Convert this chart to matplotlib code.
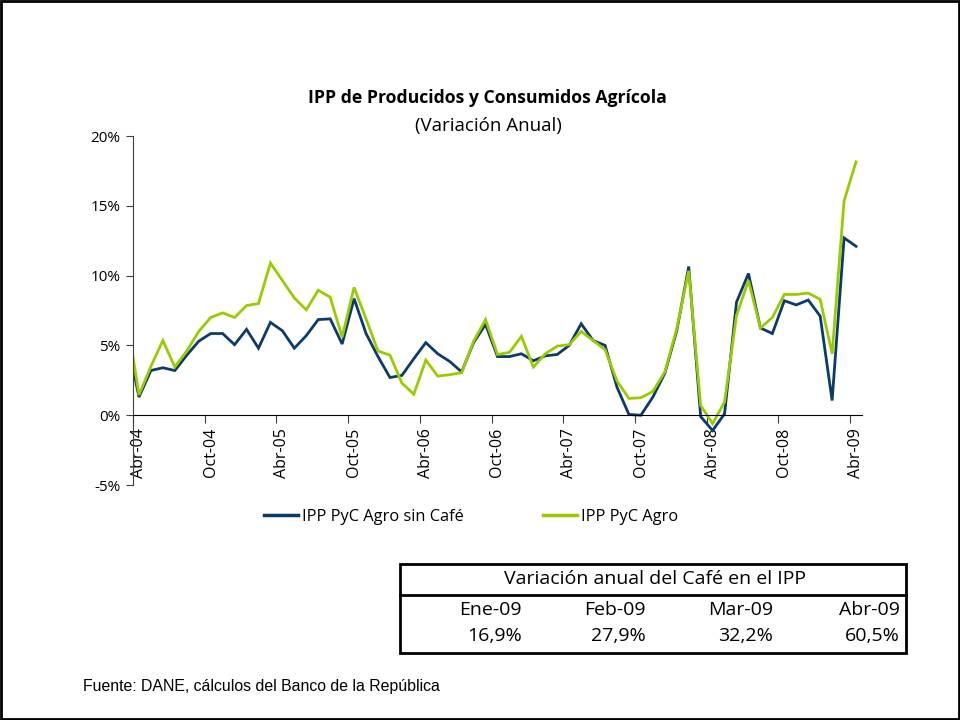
import numpy as np
import matplotlib
matplotlib.use('Agg')
import matplotlib.pyplot as plt
from matplotlib.patches import Rectangle
from matplotlib.lines import Line2D

plt.rcParams['font.family'] = ['Open Sans', 'DejaVu Sans']

# variacion anual (%), mensual de Mar-04 a Abr-09
agro_sin_cafe = [5.4, 1.3, 3.2, 3.4, 3.2, 4.3, 5.3, 5.85, 5.85, 5.05,
                 6.15, 4.8, 6.65, 6.05, 4.8, 5.7, 6.85, 6.9, 5.1, 8.35,
                 5.85, 4.2, 2.7, 2.85, 4.05, 5.2, 4.4, 3.85, 3.1, 5.2,
                 6.5, 4.2, 4.2, 4.4, 3.9, 4.25, 4.35, 5.0, 6.55, 5.35,
                 5.0, 2.0, 0.05, 0.0, 1.3, 3.0, 6.05, 10.65, -0.1, -1.1,
                 0.1, 8.1, 10.15, 6.25, 5.85, 8.2, 7.9, 8.25, 7.1, 1.05,
                 12.7, 12.1]
agro = [6.9, 1.45, 3.5, 5.35, 3.45, 4.6, 6.0, 7.0, 7.33, 7.0,
        7.85, 8.0, 10.9, 9.65, 8.4, 7.55, 8.95, 8.45, 5.6, 9.15,
        6.9, 4.6, 4.3, 2.3, 1.5, 3.95, 2.8, 2.9, 3.05, 5.3,
        6.85, 4.35, 4.5, 5.65, 3.45, 4.4, 4.95, 5.05, 6.0, 5.35,
        4.7, 2.45, 1.2, 1.25, 1.7, 3.1, 6.2, 10.35, 0.7, -0.6,
        0.95, 7.15, 9.65, 6.25, 7.0, 8.65, 8.65, 8.75, 8.3, 4.4,
        15.35, 18.15]
xlabels = ['Abr-04', 'Oct-04', 'Abr-05', 'Oct-05', 'Abr-06', 'Oct-06',
           'Abr-07', 'Oct-07', 'Abr-08', 'Oct-08', 'Abr-09']
yticks = [-5, 0, 5, 10, 15, 20]

cafe_meses = ['Ene-09', 'Feb-09', 'Mar-09', 'Abr-09']
cafe_var = ['16,9%', '27,9%', '32,2%', '60,5%']

azul = '#0B3B6B'
verde = '#99CC00'

W, H = 960, 720
def fx(x):
    return x / W
def fy(y):
    return 1 - y / H

fig = plt.figure(figsize=(9.6, 7.2), dpi=100)
ax = fig.add_axes([fx(133), fy(485), fx(862) - fx(133), fy(136) - fy(485)])

x = np.arange(len(agro))
ax.plot(x, agro_sin_cafe, color=azul, lw=2.0, solid_joinstyle='miter')
ax.plot(x, agro, color=verde, lw=2.0, solid_joinstyle='miter')

ax.set_xlim(0.5, len(agro) - 0.5)
ax.set_ylim(-5, 20)

for s in ['top', 'right']:
    ax.spines[s].set_visible(False)
ax.spines['bottom'].set_position(('data', 0))
ax.spines['left'].set_color('#404040')
ax.spines['bottom'].set_color('black')

# x: ticks between months, labels at month centres
lab_pos = np.arange(1, len(agro), 6)
ax.set_xticks(lab_pos - 0.5)
ax.set_xticklabels([])
ax.tick_params(axis='x', which='major', direction='out', length=6, color='#404040')
ax.set_xticks(lab_pos, minor=True)
ax.set_xticklabels(xlabels, minor=True, rotation=90, fontsize=11.5)
ax.tick_params(axis='x', which='minor', length=0, pad=9)

ax.set_yticks(yticks)
ax.set_yticklabels(['%d%%' % v for v in yticks], fontsize=11)
ax.tick_params(axis='y', direction='out', length=5, color='#404040', pad=4)

fig.text(fx(487), fy(98), 'IPP de Producidos y Consumidos Agrícola',
         ha='center', va='center', fontsize=12.7, fontweight='bold')
fig.text(fx(488), fy(126), '(Variación Anual)', ha='center', va='center', fontsize=13.5)

handles = [Line2D([], [], color=azul, lw=2.5), Line2D([], [], color=verde, lw=2.5)]
fig.legend(handles, ['IPP PyC Agro sin Café', 'IPP PyC Agro'], loc='center',
           bbox_to_anchor=(fx(471), fy(517)), ncol=2, frameon=False, fontsize=11.8,
           handlelength=2.06, handletextpad=0.25, columnspacing=4.85)

# tabla del cafe
fig.patches.append(Rectangle((fx(400), fy(653)), fx(906) - fx(400), fy(564) - fy(653),
                             transform=fig.transFigure, fill=False, lw=2, edgecolor='black'))
fig.lines.append(Line2D([fx(400), fx(906)], [fy(595), fy(595)],
                        transform=fig.transFigure, color='black', lw=2))
fig.text(fx(655), fy(579), 'Variación anual del Café en el IPP', ha='center', va='center', fontsize=14)
right_edges = [522, 646, 773, 900]
for xe, m, v in zip(right_edges, cafe_meses, cafe_var):
    fig.text(fx(xe), fy(610), m, ha='right', va='center', fontsize=14)
    fig.text(fx(xe), fy(636), v, ha='right', va='center', fontsize=14)

fig.text(fx(83), fy(687), 'Fuente: DANE, cálculos del Banco de la República',
         ha='left', va='center', fontsize=11.4, family='Liberation Sans')

# marco
fig.patches.append(Rectangle((0.001, 0.0015), 0.998, 0.997, transform=fig.transFigure,
                             fill=False, lw=2, edgecolor='black'))

fig.savefig('out.png', dpi=100, facecolor='white')
